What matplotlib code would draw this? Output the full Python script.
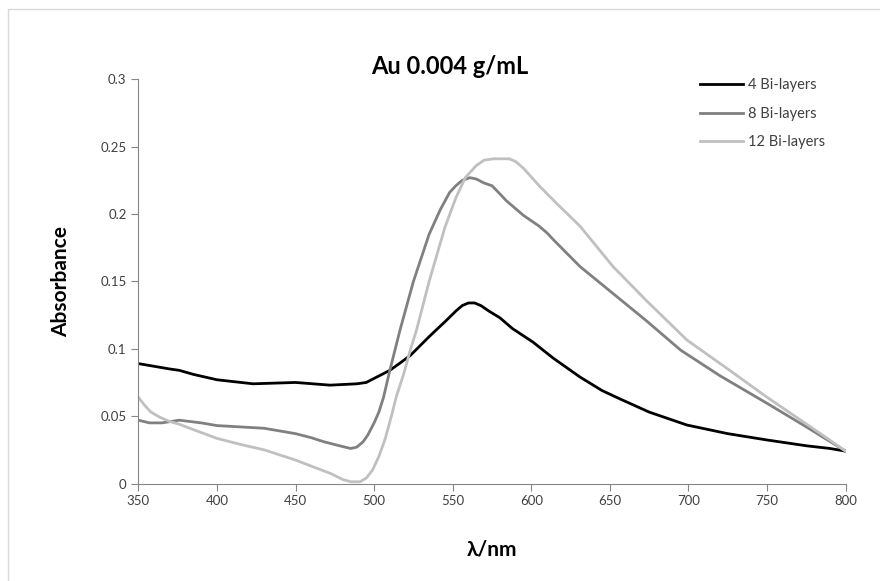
import numpy as np
import matplotlib.pyplot as plt
from matplotlib.patches import Rectangle

plt.rcParams['font.family'] = ['Lato', 'DejaVu Sans']

# 4 Bi-layers
wl_4 = [350, 360, 370, 376, 385, 400, 423, 450, 472, 489, 495, 500, 505, 510, 516, 523, 535,
        545, 552, 556, 560, 564, 568, 573, 580, 588, 601, 614, 631, 645, 656, 675, 699, 725,
        750, 775, 790, 800]
abs_4 = [0.089, 0.087, 0.085, 0.084, 0.081, 0.077, 0.074, 0.075, 0.073, 0.074, 0.075, 0.078,
         0.081, 0.084, 0.089, 0.095, 0.109, 0.120, 0.128, 0.132, 0.134, 0.134, 0.132, 0.128,
         0.123, 0.115, 0.105, 0.093, 0.079, 0.069, 0.063, 0.053, 0.0434, 0.037, 0.0323, 0.028,
         0.026, 0.024]

# 8 Bi-layers
wl_8 = [350, 357, 365, 376, 390, 400, 430, 450, 460, 468, 478, 485, 489, 493, 496, 500, 503,
        506, 510, 516.5, 525, 535, 542, 548, 552, 556, 561, 565, 570, 575, 580, 584, 590, 595,
        600, 605, 610, 614, 631, 652, 673, 695, 720, 750, 775, 800]
abs_8 = [0.047, 0.045, 0.045, 0.047, 0.045, 0.043, 0.041, 0.037, 0.034, 0.031, 0.028, 0.026,
         0.027, 0.031, 0.036, 0.045, 0.053, 0.064, 0.084, 0.114, 0.150, 0.185, 0.203, 0.216,
         0.221, 0.225, 0.227, 0.226, 0.223, 0.221, 0.215, 0.210, 0.204, 0.199, 0.195, 0.191,
         0.186, 0.181, 0.161, 0.141, 0.121, 0.099, 0.080, 0.0595, 0.042, 0.024]

# 12 Bi-layers
wl_12 = [350, 354, 358, 364, 370, 376, 385, 400, 415, 430, 450, 462, 472, 480, 485, 491, 495,
         499, 503, 507, 511, 514, 519, 523, 527, 535, 545, 552, 558, 565, 570, 576, 586, 590,
         595, 605, 616, 631, 652, 673, 699, 725, 750, 784, 800]
abs_12 = [0.064, 0.058, 0.053, 0.049, 0.046, 0.044, 0.040, 0.0335, 0.029, 0.025, 0.0174, 0.012,
          0.0076, 0.003, 0.0013, 0.0013, 0.004, 0.010, 0.020, 0.033, 0.050, 0.064, 0.082, 0.099,
          0.114, 0.150, 0.190, 0.212, 0.227, 0.236, 0.240, 0.241, 0.241, 0.239, 0.234, 0.221,
          0.208, 0.191, 0.161, 0.136, 0.1065, 0.085, 0.064, 0.037, 0.024]

x_ticks = [350, 400, 450, 500, 550, 600, 650, 700, 750, 800]
y_ticks = [0, 0.05, 0.1, 0.15, 0.2, 0.25, 0.3]
y_labels = ['0', '0.05', '0.1', '0.15', '0.2', '0.25', '0.3']

fig = plt.figure(figsize=(8.8, 5.81), dpi=100)
ax = fig.add_axes([0.1572, 0.1678, 0.8038, 0.6957])

# chart border
fig.patches.append(Rectangle((8 / 880, -0.05), 1.2, (581 - 9) / 581 + 0.05,
                             transform=fig.transFigure, fill=False,
                             edgecolor='#d9d9d9', linewidth=1.0))

ax.plot(wl_4, abs_4, color='black', lw=2.0, label='4 Bi-layers', solid_joinstyle='round')
ax.plot(wl_8, abs_8, color='#808080', lw=2.0, label='8 Bi-layers', solid_joinstyle='round')
ax.plot(wl_12, abs_12, color='#c0c0c0', lw=2.0, label='12 Bi-layers', solid_joinstyle='round')

ax.set_xlim(350, 800)
ax.set_ylim(0, 0.3)
ax.set_xticks(x_ticks)
ax.set_yticks(y_ticks)
ax.set_yticklabels(y_labels)

for s in ['top', 'right']:
    ax.spines[s].set_visible(False)
for s in ['left', 'bottom']:
    ax.spines[s].set_color('#868686')
ax.tick_params(direction='out', length=5, color='#868686', labelcolor='#404040', labelsize=9.5)

ax.set_xlabel('λ/nm', fontsize=15, fontweight='bold', labelpad=23)
ax.set_ylabel('Absorbance', fontsize=15, fontweight='bold', labelpad=21)

fig.text(450 / 880, 1 - 66 / 581, 'Au 0.004 g/mL', ha='center', va='center',
         fontsize=17, fontweight='bold')

leg = ax.legend(loc='upper left', bbox_to_anchor=(0.775, 1.035), frameon=False,
                fontsize=10.5, handlelength=3.0, handletextpad=0.3, labelspacing=1.0)
for t in leg.get_texts():
    t.set_color('#404040')

fig.savefig('out.png', dpi=100, facecolor='white')
